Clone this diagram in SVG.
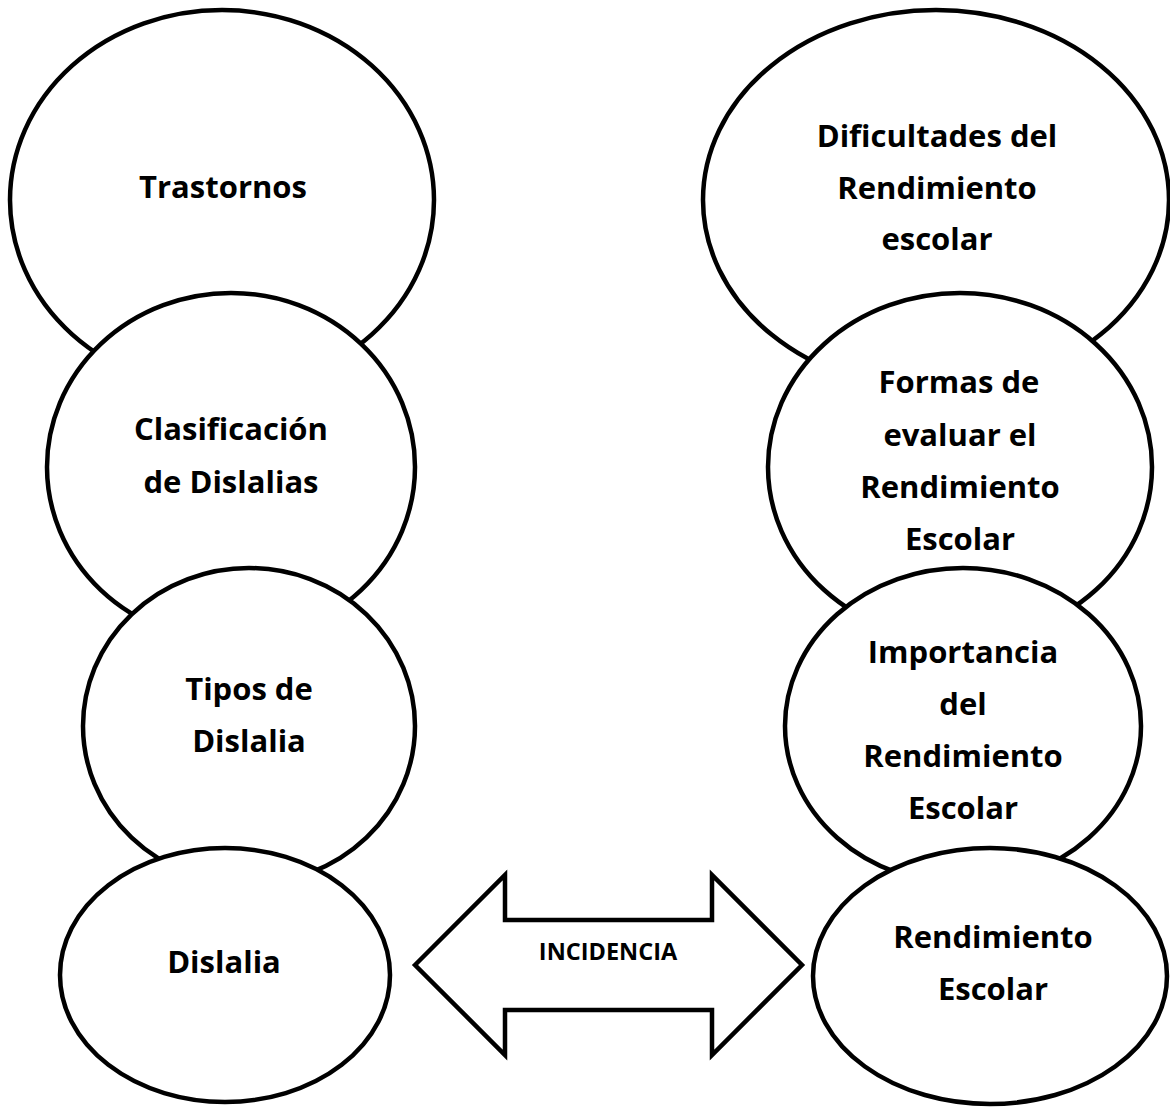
<svg xmlns="http://www.w3.org/2000/svg" width="1170" height="1107" viewBox="0 0 1170 1107">
<style>
.n{fill:#fff;stroke:#000;stroke-width:4.5}
.t{font-family:"Open Sans","Liberation Sans",sans-serif;font-weight:bold;font-size:31px;fill:#000;text-anchor:middle}
.s{font-family:"Open Sans","Liberation Sans",sans-serif;font-weight:bold;font-size:23.5px;fill:#000;text-anchor:middle}
</style>
<rect width="1170" height="1107" fill="#fff"/>
<g id="trastornos"><ellipse class="n" cx="222" cy="200" rx="212" ry="190"/><text class="t" x="223" y="198">Trastornos</text></g>
<g id="clasificacion"><ellipse class="n" cx="231" cy="467" rx="184" ry="174"/><text class="t" x="231" y="440">Clasificación</text><text class="t" x="231" y="493">de Dislalias</text></g>
<g id="tipos"><ellipse class="n" cx="249" cy="726" rx="166" ry="158"/><text class="t" x="249" y="700">Tipos de</text><text class="t" x="249" y="752">Dislalia</text></g>
<g id="dislalia"><ellipse class="n" cx="225" cy="975" rx="165" ry="127"/><text class="t" x="224" y="973">Dislalia</text></g>
<g id="dificultades"><ellipse class="n" cx="936" cy="200" rx="233" ry="190"/><text class="t" x="937" y="147">Dificultades del</text><text class="t" x="937" y="199">Rendimiento</text><text class="t" x="937" y="250">escolar</text></g>
<g id="formas"><ellipse class="n" cx="960" cy="467" rx="192" ry="174"/><text class="t" x="959" y="393">Formas de</text><text class="t" x="960" y="446">evaluar el</text><text class="t" x="960" y="498">Rendimiento</text><text class="t" x="960" y="550">Escolar</text></g>
<g id="importancia"><ellipse class="n" cx="963" cy="726" rx="178" ry="158"/><text class="t" x="963" y="663">Importancia</text><text class="t" x="963" y="715">del</text><text class="t" x="963" y="767">Rendimiento</text><text class="t" x="963" y="819">Escolar</text></g>
<g id="rendimiento"><ellipse class="n" cx="990" cy="976" rx="177" ry="128"/><text class="t" x="993" y="948">Rendimiento</text><text class="t" x="993" y="1000">Escolar</text></g>
<g id="connectors"><polygon class="n" stroke-linejoin="miter" points="415,965 505,875 505,920 712,920 712,875 802,965 712,1055 712,1010 505,1010 505,1055"/><text class="s" x="608" y="960">INCIDENCIA</text></g>
</svg>
